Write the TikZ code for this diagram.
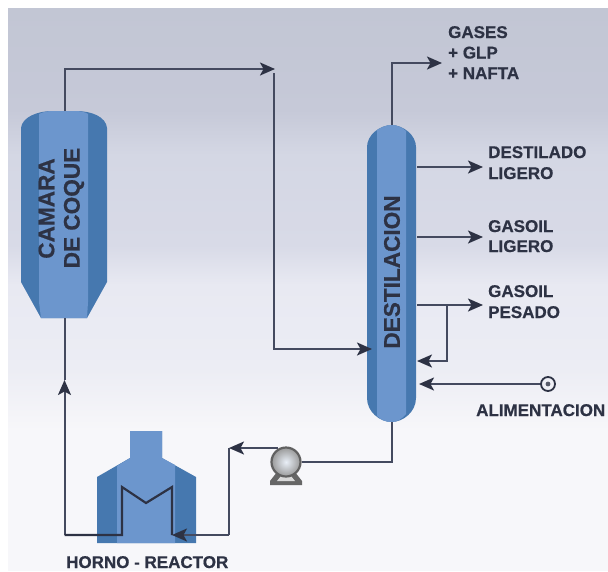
\documentclass[tikz,border=0pt]{standalone}
\usepackage{fontspec}
\setmainfont{Liberation Sans}[BoldFeatures={FakeBold=0.6}]
\usetikzlibrary{arrows.meta}
\definecolor{vlight}{RGB}{108,150,205}
\definecolor{vdark}{RGB}{70,120,175}
\definecolor{ink}{RGB}{45,50,68}
\definecolor{pipe}{RGB}{68,74,95}
\definecolor{bgA}{RGB}{194,198,212}
\definecolor{bgB}{RGB}{198,201,216}
\definecolor{bgC}{RGB}{212,215,228}
\definecolor{bgD}{RGB}{216,218,231}
\definecolor{bgE}{RGB}{232,233,242}
\definecolor{bgF}{RGB}{236,237,244}
\definecolor{bgG}{RGB}{247,247,250}
\tikzset{
  x=1pt,y=-1pt,
  pipeline/.style={draw=pipe,line width=2pt,line join=miter},
  flow/.style={pipeline,-{Stealth[length=15pt,width=13pt,inset=3.5pt,color=ink]}},
  lab/.style={font=\fontsize{17}{21}\selectfont\bfseries,text=ink,inner sep=0pt,align=left},
  vesseltext/.style={font=\fontsize{22.6}{26}\selectfont\bfseries,text=ink,inner sep=0pt,rotate=90},
}
\begin{document}
\begin{tikzpicture}
\useasboundingbox (0,0) rectangle (608,571);
% background
\shade[top color=bgA,bottom color=bgB] (8,8) rectangle (608,110);
\shade[top color=bgB,bottom color=bgC] (8,110) rectangle (608,155);
\shade[top color=bgC,bottom color=bgD] (8,155) rectangle (608,245);
\shade[top color=bgD,bottom color=bgE] (8,245) rectangle (608,285);
\shade[top color=bgE,bottom color=bgF] (8,285) rectangle (608,370);
\shade[top color=bgF,bottom color=bgG] (8,370) rectangle (608,430);
\fill[bgG] (8,430) rectangle (608,571);

% named points
\coordinate (cokeTop) at (64.5,111);
\coordinate (cokeBot) at (64.5,318);
\coordinate (cokeUp) at (64.5,69);
\coordinate (topTip) at (275,69);
\coordinate (downStart) at (274,73);
\coordinate (downCorner) at (274,349);
\coordinate (feedTip) at (372,349);
\coordinate (colTop) at (391.5,125);
\coordinate (colUp) at (391.5,63);
\coordinate (gasTip) at (442,63);
\coordinate (colBot) at (391.5,422);
\coordinate (colBotCorner) at (391.5,462);
\coordinate (dlS) at (417,167);
\coordinate (dlE) at (483,167);
\coordinate (glS) at (417,237);
\coordinate (glE) at (483,237);
\coordinate (gpS) at (417,305);
\coordinate (gpE) at (483,305);
\coordinate (gpBranch) at (447,305);
\coordinate (gpDown) at (447,361);
\coordinate (gpTip) at (417,361);
\coordinate (alimTip) at (419,384);
\coordinate (upTip) at (64.5,380);
\coordinate (coilLeftBase) at (64.5,535);
\coordinate (c1) at (122,535);
\coordinate (c2) at (122,487);
\coordinate (c3) at (146,503);
\coordinate (c4) at (172,487);
\coordinate (c5) at (172,535);
\coordinate (riserBase) at (229,535);
\coordinate (riserTop) at (229,448);
\coordinate (pumpTopTangent) at (278,448);

% coke chamber
\fill[vdark] (21,128) .. controls (22,117) and (38,111) .. (52,111) -- (76,111) .. controls (92,111) and (106,117) .. (107,128) -- (107,282) -- (87,318) -- (41,318) -- (21,282) -- cycle;
\fill[vlight] (39,114) .. controls (43,112) and (48,111) .. (52,111) -- (76,111) .. controls (80,111) and (85,112) .. (88,114) -- (88,302) -- (87,318) -- (41,318) -- (39,302) -- cycle;

% distillation column
\fill[vdark] (367,147) .. controls (367,135) and (380,125) .. (391.5,125) .. controls (403,125) and (416,135) .. (416,147) -- (416,398) .. controls (416,412) and (403,422) .. (391.5,422) .. controls (380,422) and (367,412) .. (367,398) -- cycle;
\fill[vlight] (377,130) .. controls (382,127) and (387,125) .. (391.5,125) .. controls (396,125) and (402,127) .. (406,131) -- (406,414) .. controls (402,419) and (397,422) .. (391.5,422) .. controls (386,422) and (381,420) .. (377,416) -- cycle;

% furnace
\fill[vdark] (130,431) -- (162,431) -- (162,458) -- (196,477) -- (196,543) -- (97,543) -- (97,477) -- (130,458) -- cycle;
\fill[vlight] (130,431) -- (162,431) -- (162,458) -- (175,465) -- (175,543) -- (117,543) -- (117,466) -- (130,458) -- cycle;

% pipes
\draw[flow] (cokeTop) -- (cokeUp) -- (topTip);
\draw[flow] (downStart) -- (downCorner) -- (feedTip);
\draw[flow] (colTop) -- (colUp) -- (gasTip);
\draw[flow] (dlS) -- (dlE);
\draw[flow] (glS) -- (glE);
\draw[flow] (gpS) -- (gpE);
\draw[flow] (gpBranch) -- (gpDown) -- (gpTip);
\draw[flow] (coilLeftBase) -- (upTip);
\draw[pipeline] (upTip) -- (cokeBot);
\draw[line width=2.2pt,draw=ink,line join=miter] (coilLeftBase) -- (c1) -- (c2) -- (c3) -- (c4) -- (c5);
\draw[flow] (riserBase) -- (c5);
\draw[flow] (pumpTopTangent) -- (riserTop);
\draw[pipeline] (riserBase) -- (riserTop);

% pump
\fill[black!60!white] (277,472) -- (295,472) -- (302,481) -- (302,485) -- (270,485) -- (270,481) -- cycle;
\fill[white!85!black] (281,476) -- (291,476) -- (295,481) -- (277,481) -- cycle;
\node[circle,minimum size=29pt,inner sep=0pt,line width=2.2pt,draw=black!62!white,
      inner color=white!85!vlight,outer color=black!40!white] (pump) at (286,462) {};
\draw[pipeline] (pump.east) -- (colBotCorner) -- (colBot);

% feed
\node[circle,draw=ink,line width=1.8pt,minimum size=14pt,inner sep=0pt] (feed) at (548,384) {};
\fill[ink!80!white] (feed) circle (2.4);
\draw[flow] (feed.west) -- (alimTip);

% labels
\node[vesseltext] (camara) at (46.5,208.5) {CAMARA};
\node[vesseltext] (coque) at (74,208) {DE COQUE};
\node[vesseltext] (dest) at (392,272) {DESTILACION};
\node[lab,anchor=base west] (gases) at (448,38) {GASES};
\node[lab,anchor=base west] (glp) at (448,58.5) {+ GLP};
\node[lab,anchor=base west] (nafta) at (448,79) {+ NAFTA};
\node[lab,anchor=base west] (dl1) at (488,158) {DESTILADO};
\node[lab,anchor=base west] (dl2) at (488,179) {LIGERO};
\node[lab,anchor=base west] (gl1) at (488,232) {GASOIL};
\node[lab,anchor=base west] (gl2) at (488,252) {LIGERO};
\node[lab,anchor=base west] (gp1) at (488,297) {GASOIL};
\node[lab,anchor=base west] (gp2) at (488,318) {PESADO};
\node[lab,anchor=base west] (alim) at (476,416) {ALIMENTACION};
\node[lab,anchor=base west] (horno) at (66,568) {HORNO - REACTOR};
\end{tikzpicture}
\end{document}
